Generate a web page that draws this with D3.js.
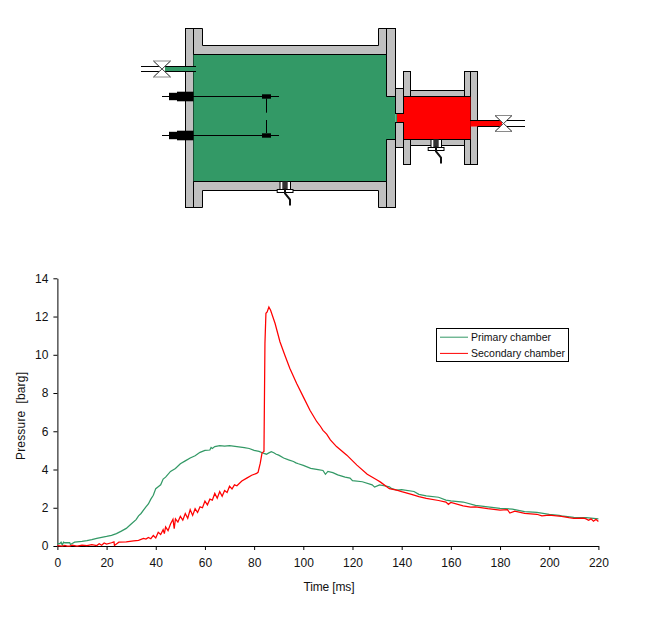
<!DOCTYPE html>
<html><head><meta charset="utf-8">
<script src="https://cdn.jsdelivr.net/npm/d3@7/dist/d3.min.js"></script>
<style>html,body{margin:0;padding:0;background:#fff}svg{display:block}text{font-family:"Liberation Sans",Arial,sans-serif;fill:#111}</style>
</head><body><svg id="c" width="648" height="623"></svg>
<script>
const xTicks=[0,20,40,60,80,100,120,140,160,180,200,220];
const yTicks=[0,2,4,6,8,10,12,14];
const seriesNames=["Primary chamber","Secondary chamber"];
const seriesColors=["#339966","#ff0000"];
const primaryTime=[0,1,1.5,2,2.5,3,5,5.3,7,10,12,14,16,18,20,22,24,26,28,30,32,33,34,36,37,38,39,40,41,42,43,44,46,48,50,52,54,56,58,60,62,62.5,63,64,66,68,70,73,76,78,80,82,84,85,86,87,88,89,90,92,94,96,97,98,100,103,106,108,109,110,112,114,117,119,120,124,128,129,131,135,136,138,140,145,147,150,155,158,160,165,170,175,180,185,188,190,195,200,204,205,210,215,220];
const primaryValue=[.12,.12,.2,.05,.2,.17,.18,.08,.2,.24,.28,.33,.4,.45,.5,.56,.65,.78,.92,1.15,1.38,1.58,1.7,2.05,2.2,2.45,2.65,3,3.1,3.2,3.5,3.6,3.9,4.05,4.3,4.45,4.6,4.72,4.9,5,5.02,5.15,5.1,5.2,5.25,5.22,5.25,5.2,5.15,5.1,5,4.95,4.84,4.8,4.87,4.93,4.88,4.8,4.75,4.6,4.5,4.42,4.35,4.3,4.22,4.06,4.0,3.95,3.75,3.9,3.84,3.72,3.6,3.55,3.42,3.36,3.2,3.08,3.2,3.1,3.0,2.92,2.95,2.85,2.7,2.62,2.55,2.4,2.36,2.3,2.12,2.05,1.97,1.93,1.85,1.8,1.76,1.66,1.6,1.57,1.5,1.48,1.42,1.36];
const secondaryTime=[0,2,3,4,5,6,8,10,12,14,16,17,18,19,20,22,23,23.2,25,28,31,33,35,36,37,38,39,40,41,42,43,43.5,44,45,46,47,47.5,48,49,50,51,52,53,54,55,56,57,58,59,60,61,62,63,64,65,66,67,68,69,70,71,72,73,75,77,79,81,81.6,82.5,83.2,84,84.4,84.8,85.3,86,86.7,88.5,90.5,92.5,94.5,97.3,100,102.7,105.5,107,108,109.5,111,113.5,117.7,121.8,126,130,131.4,135,138,140,144,147,150,155,158,159,160,165,168,170,175,180,183,184,186,190,195,197,200,205,208,210,214,215,216,217,218,219,220];
const secondaryValue=[.02,0,.03,0,.0,.04,.0,.05,.02,.07,.02,.12,.04,.16,.1,.17,.22,.03,.2,.22,.27,.3,.4,.36,.45,.38,.55,.42,.72,.6,.85,.65,1,.8,1.15,1.4,.9,1.42,1.25,1.55,1.35,1.7,1.45,1.9,1.6,1.95,1.75,2.05,2.0,2.35,2.15,2.45,2.4,2.75,2.5,2.85,2.6,2.9,2.8,3.13,2.98,3.2,3.15,3.4,3.55,3.7,3.8,3.85,4.33,4.86,4.95,10.6,12.17,12.24,12.5,12.33,11.65,10.68,9.98,9.3,8.5,7.8,7.1,6.5,6.25,6.05,5.85,5.55,5.2,4.75,4.23,3.75,3.45,3.34,3.0,2.92,2.84,2.7,2.58,2.49,2.38,2.3,2.18,2.28,2.1,2.03,2.05,1.95,1.88,1.9,1.72,1.82,1.71,1.66,1.58,1.62,1.55,1.48,1.45,1.46,1.42,1.34,1.42,1.3,1.4,1.28,1.38,1.27];

const svg=d3.select("#c");
const x=d3.scaleLinear().domain([0,220]).range([57.4,598.4]);
const y=d3.scaleLinear().domain([0,14]).range([546,278.3]);

/* chart axes */
const gx=svg.append("g").attr("transform","translate(0,546)").call(d3.axisBottom(x).tickValues(xTicks).tickSize(4).tickPadding(8).tickSizeOuter(0));
const gy=svg.append("g").attr("transform","translate(57.4,0)").call(d3.axisLeft(y).tickValues(yTicks).tickSize(4).tickPadding(5).tickSizeOuter(0));
[gx,gy].forEach(g=>{g.selectAll("path,line").attr("stroke","#000").attr("stroke-width",1);g.selectAll("text").attr("font-size",12).attr("font-family",'"Liberation Sans"').attr("fill","#111");});

/* chart lines */
const line=d3.line().x(d=>x(d[0])).y(d=>y(d[1])).curve(d3.curveLinear);
const lineData=[d3.zip(primaryTime,primaryValue),d3.zip(secondaryTime,secondaryValue)];
lineData.forEach((d,i)=>svg.append("path").attr("d",line(d)).attr("fill","none").attr("stroke",seriesColors[i]).attr("stroke-width",1.25));

/* axis titles */
svg.append("text").attr("x",329).attr("y",591).attr("text-anchor","middle").attr("font-size",12).attr("textLength",51).text("Time [ms]");
svg.append("text").attr("transform","translate(25,416) rotate(-90)").attr("text-anchor","middle").attr("font-size",12).attr("textLength",88).attr("xml:space","preserve").text("Pressure  [barg]");

/* legend */
const lg=svg.append("g");
lg.append("rect").attr("x",436.5).attr("y",328.5).attr("width",132).attr("height",33).attr("fill","#fff").attr("stroke","#000").attr("stroke-width",1);
seriesNames.forEach((n,i)=>{
  const ly=337.2+i*16.2;
  lg.append("line").attr("x1",440).attr("x2",468).attr("y1",ly).attr("y2",ly).attr("stroke",seriesColors[i]).attr("stroke-width",1);
  lg.append("text").attr("x",471).attr("y",ly+4).attr("font-size",11.5).attr("textLength",i?94:80).attr("lengthAdjust","spacingAndGlyphs").text(n);
});

/* apparatus schematic */
const G="#c0c0c0",GR="#339966",R="#ff0000",K="#000";
const d=svg.append("g");
function rect(a,b,c,e,f,s){d.append("rect").attr("x",a).attr("y",b).attr("width",c-a).attr("height",e-b).attr("fill",f).attr("stroke",s||"none").attr("stroke-width",s?1:0);}
function poly(p,f,s,w){d.append("path").attr("d",d3.line()(p)+"Z").attr("fill",f).attr("stroke",s||"none").attr("stroke-width",w||1);}
function pl(p,w,c){d.append("path").attr("d",d3.line()(p)).attr("fill","none").attr("stroke",c||K).attr("stroke-width",w||1);}
// primary vessel walls
poly([[193.5,28.5],[202.5,28.5],[202.5,45.5],[378.5,45.5],[378.5,28.5],[386.5,28.5],[386.5,54.5],[193.5,54.5]],G,K);
poly([[193.5,181.5],[386.5,181.5],[386.5,207.5],[378.5,207.5],[378.5,190.5],[202.5,190.5],[202.5,207.5],[193.5,207.5]],G,K);
rect(185.5,28.5,193.5,207.5,G,K);
rect(386.5,28.5,395.5,96.5,G,K);
rect(386.5,139.5,395.5,207.5,G,K);
// primary chamber fill
poly([[193.5,54.5],[386.5,54.5],[386.5,96.5],[395.5,96.5],[395.5,139.5],[386.5,139.5],[386.5,181.5],[193.5,181.5]],GR);
pl([[193.5,54.5],[386.5,54.5],[386.5,96.5],[395.5,96.5]]);
pl([[193.5,181.5],[386.5,181.5],[386.5,139.5],[395.5,139.5]]);
// secondary vessel walls
rect(403.5,71.5,410.5,96.5,G,K);
rect(403.5,139.5,410.5,164.5,G,K);
poly([[410.5,90.5],[464.5,90.5],[464.5,96.5],[410.5,96.5]],G,K);
poly([[410.5,139.5],[464.5,139.5],[464.5,145.5],[410.5,145.5]],G,K);
rect(464.5,71.5,470.5,96.5,G,K);
rect(464.5,139.5,470.5,164.5,G,K);
rect(470.5,71.5,477.5,164.5,G,K);
// secondary chamber and orifice
rect(403.5,96.5,470.5,139.5,R);
pl([[403.5,96.5],[470.5,96.5]]);pl([[403.5,139.5],[470.5,139.5]]);
rect(397,113.5,404,122.5,R);
rect(395.5,113.5,397,122.5,GR);
rect(395.5,88.5,403.5,113.5,G,K);
rect(395.5,122.5,403.5,147.5,G,K);
// outlet pipe
rect(470.5,120.5,502,126.5,R);
pl([[470,120.5],[525,120.5]]);pl([[477.5,126.5],[525,126.5]]);
// inlet pipe
rect(165,66.5,196,71.5,GR);
pl([[141,66.5],[196,66.5]]);pl([[141,71.5],[196,71.5]]);
// valves
function valve(cx,cy){
  poly([[cx-8.5,cy-8],[cx+8.5,cy-8],[cx-8.5,cy+8],[cx+8.5,cy+8]],"#fff","#8a8a8a",1);
  pl([[cx-8.5,cy-8],[cx+8.5,cy+8]],1,"#555");pl([[cx+8.5,cy-8],[cx-8.5,cy+8]],1,"#555");
}
valve(162,69);valve(503.5,123.5);
pl([[141,66.5],[158,66.5]]);pl([[141,71.5],[158,71.5]]);
pl([[507,120.5],[525,120.5]]);pl([[507,126.5],[525,126.5]]);
// electrodes
[96.5,135.5].forEach(ey=>{
  pl([[162,ey],[279,ey]]);
  rect(169,ey-3.7,177,ey+3.7,K);
  rect(177,ey-4.8,193.5,ey+4.8,K);
  rect(262,ey-2.2,271,ey+2.2,K);
});
pl([[266.5,98.5],[266.5,112.7]]);pl([[266.5,120],[266.5,133]]);
// pressure sensors
function sensor(cx,top){
  rect(cx-5,top,cx+5.5,top+8,"#fff",K);
  rect(cx-7.8,top+8,cx+8,top+11,"#fff",K);
  rect(cx-2.7,top,cx+2.7,top+7.5,"#333");
  pl([[cx,top+7],[cx,top+12],[cx+5,top+18],[cx+5,top+24]],2,"#111");
}
sensor(285,181.5);sensor(436,139.5);
</script></body></html>
